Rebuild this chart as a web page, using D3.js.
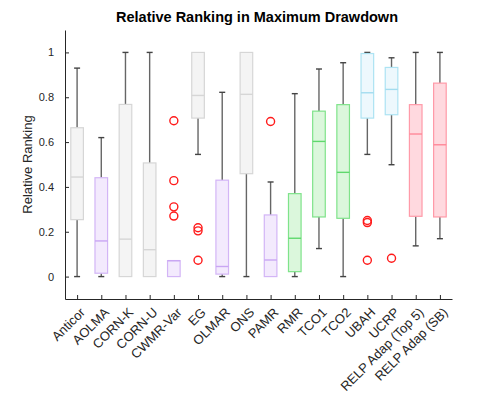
<!DOCTYPE html>
<html lang="en">
<head>
<meta charset="UTF-8">
<title>Relative Ranking in Maximum Drawdown</title>
<script src="https://cdnjs.cloudflare.com/ajax/libs/d3/7.8.5/d3.min.js"></script>
<style>
    body { margin: 0; background: #fff; }
    text { font-family: "Liberation Sans", Arial, sans-serif; fill: #262626; }
    .title { font-weight: bold; font-size: 14.5px; fill: #000; }
</style>
</head>
<body>
<div id="chart"></div>
<script>
// methods shown on the x axis
const methods = ["Anticor", "AOLMA", "CORN-K", "CORN-U", "CWMR-Var", "EG", "OLMAR", "ONS",
    "PAMR", "RMR", "TCO1", "TCO2", "UBAH", "UCRP", "RELP Adap (Top 5)", "RELP Adap (SB)"];
// colour group for each method
const groups = ["gray", "purple", "gray", "gray", "purple", "gray", "purple", "gray",
    "purple", "green", "green", "green", "blue", "blue", "red", "red"];
// box statistics
const whiskerLow  = [0, 0, 0, 0, 0, 0.545, 0, 0, 0, 0, 0.125, 0, 0.545, 0.499, 0.137, 0.169];
const q1          = [0.254, 0.015, 0, 0, 0, 0.707, 0.011, 0.459, 0, 0.022, 0.266, 0.26, 0.707, 0.722, 0.269, 0.266];
const medians     = [0.444, 0.159, 0.167, 0.12, 0.071, 0.808, 0.045, 0.813, 0.074, 0.171, 0.603, 0.465, 0.82, 0.835, 0.636, 0.588];
const q3          = [0.664, 0.441, 0.768, 0.507, 0.071, 1, 0.43, 1, 0.275, 0.37, 0.738, 0.767, 0.995, 0.933, 0.767, 0.863];
const whiskerHigh = [0.93, 0.62, 1, 1, 0.071, 1, 0.822, 1, 0.422, 0.816, 0.926, 0.954, 1, 0.976, 1, 1];
// outliers: [method index, value]
const outliers = [[4, 0.695], [4, 0.428], [4, 0.311], [4, 0.27],
    [5, 0.218], [5, 0.204], [5, 0.073],
    [8, 0.692],
    [12, 0.25], [12, 0.241], [12, 0.073],
    [13, 0.082]];
const yTicks = [0, 0.2, 0.4, 0.6, 0.8, 1];

const palette = {
    gray:   { fill: "#f4f4f4", stroke: "#d6d6d6", median: "#d6d6d6" },
    purple: { fill: "#f3eafd", stroke: "#d3b5f6", median: "#c9a6f3" },
    green:  { fill: "#dbf7dc", stroke: "#7fe38a", median: "#5fd86d" },
    blue:   { fill: "#edf8fd", stroke: "#ade3f3", median: "#a3dcef" },
    red:    { fill: "#ffd9df", stroke: "#ff9aa8", median: "#ff8898" }
};

const width = 499, height = 399;
const margin = { left: 65, right: 47, top: 30, bottom: 100 };

const svg = d3.select("#chart").append("svg")
    .attr("width", width)
    .attr("height", height);

const x = d3.scaleLinear().domain([0.5, methods.length + 0.5]).range([margin.left, width - margin.right]);
const y = d3.scaleLinear().domain([-0.1, 1.1]).range([height - margin.bottom, margin.top]);

const boxW = 12.6, capW = 6;

svg.append("text")
    .attr("class", "title")
    .attr("x", 257)
    .attr("y", 22)
    .attr("text-anchor", "middle")
    .text("Relative Ranking in Maximum Drawdown");

// y axis, ticks point inward
const yAxis = svg.append("g")
    .attr("transform", `translate(${margin.left},0)`)
    .call(d3.axisLeft(y).tickValues(yTicks).tickSize(-4).tickSizeOuter(0).tickPadding(11).tickFormat(d3.format("")));
yAxis.select(".domain").attr("stroke", "#262626");
yAxis.selectAll(".tick line").attr("stroke", "#262626");
yAxis.selectAll("text").style("font-size", "11px").attr("fill", "#262626");

svg.append("text")
    .attr("transform", `translate(32,${(margin.top + height - margin.bottom) / 2}) rotate(-90)`)
    .attr("text-anchor", "middle")
    .style("font-size", "13px")
    .text("Relative Ranking");

// x axis
const xAxis = svg.append("g")
    .attr("transform", `translate(0,${height - margin.bottom})`)
    .call(d3.axisBottom(x).tickValues(d3.range(1, methods.length + 1)).tickSize(-4).tickSizeOuter(0)
        .tickFormat(d => methods[d - 1]));
xAxis.select(".domain").attr("stroke", "#262626");
xAxis.selectAll(".tick line").attr("stroke", "#262626");
xAxis.selectAll("text")
    .style("font-size", "13px")
    .attr("fill", "#262626")
    .attr("text-anchor", "end")
    .attr("transform", "translate(5,11) rotate(-45)")
    .attr("dy", "0.35em")
    .attr("y", 0);

// boxes
const box = svg.selectAll(".box")
    .data(methods)
    .join("g")
    .attr("class", "box");

box.each(function(name, i) {
    const g = d3.select(this);
    const cx = x(i + 1);
    const col = palette[groups[i]];
    // whiskers
    if (whiskerHigh[i] > q3[i]) {
        g.append("line").attr("x1", cx).attr("x2", cx)
            .attr("y1", y(q3[i])).attr("y2", y(whiskerHigh[i]))
            .attr("stroke", "#666").attr("stroke-width", 1.4);
        g.append("line").attr("x1", cx - capW / 2).attr("x2", cx + capW / 2)
            .attr("y1", y(whiskerHigh[i])).attr("y2", y(whiskerHigh[i]))
            .attr("stroke", "#444").attr("stroke-width", 1.4);
    }
    if (whiskerLow[i] < q1[i]) {
        g.append("line").attr("x1", cx).attr("x2", cx)
            .attr("y1", y(q1[i])).attr("y2", y(whiskerLow[i]))
            .attr("stroke", "#666").attr("stroke-width", 1.4);
        g.append("line").attr("x1", cx - capW / 2).attr("x2", cx + capW / 2)
            .attr("y1", y(whiskerLow[i])).attr("y2", y(whiskerLow[i]))
            .attr("stroke", "#444").attr("stroke-width", 1.4);
    }
    g.append("rect")
        .attr("x", cx - boxW / 2)
        .attr("y", y(q3[i]))
        .attr("width", boxW)
        .attr("height", Math.max(0, y(q1[i]) - y(q3[i])))
        .attr("fill", col.fill)
        .attr("stroke", col.stroke)
        .attr("stroke-width", 1.2);
    g.append("line")
        .attr("x1", cx - boxW / 2).attr("x2", cx + boxW / 2)
        .attr("y1", y(medians[i])).attr("y2", y(medians[i]))
        .attr("stroke", col.median).attr("stroke-width", 1.4);
});

// outliers
svg.selectAll(".outlier")
    .data(outliers)
    .join("circle")
    .attr("class", "outlier")
    .attr("cx", d => x(d[0] + 1))
    .attr("cy", d => y(d[1]))
    .attr("r", 4)
    .attr("fill", "none")
    .attr("stroke", "#ff1a1a")
    .attr("stroke-width", 1.4);
</script>
</body>
</html>
